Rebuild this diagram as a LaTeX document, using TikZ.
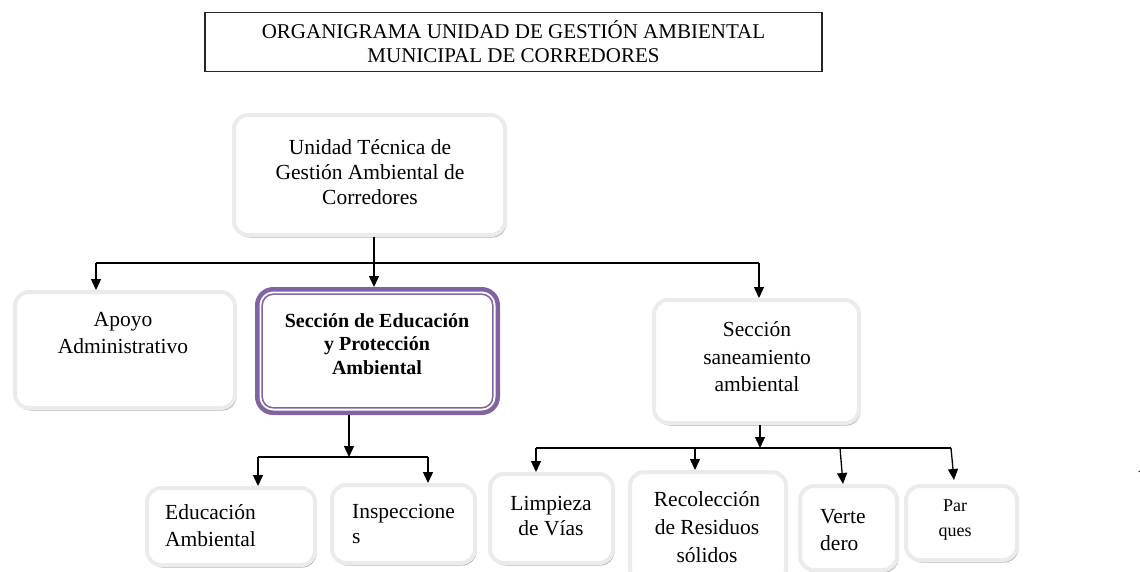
\documentclass[tikz,border=0pt]{standalone}
\usepackage{fontspec}
\setmainfont{Liberation Serif}
\usetikzlibrary{arrows.meta,shadows,calc}
\definecolor{purp}{HTML}{8064A2}
\begin{document}
\begin{tikzpicture}[x=1pt,y=-1pt,
  gbox/.style={draw=black!8, line width=4pt, fill=white, rounded corners=14pt,
    anchor=north west, inner sep=0pt,
    drop shadow={shadow xshift=1.5pt, shadow yshift=-2.5pt, fill=black!30, opacity=1}},
  pbox/.style={draw=purp, line width=4.5pt, fill=white, rounded corners=16pt,
    anchor=north west, inner sep=0pt},
  titlebox/.style={draw=black!85, line width=1.2pt, align=center, inner sep=0pt,
    font=\fontsize{21}{24}\selectfont},
  txt/.style={align=center, inner sep=0pt, font=\fontsize{21.5}{#1}\selectfont},
  ltxt/.style={align=left, inner sep=0pt, anchor=west, font=\fontsize{21.5}{#1}\selectfont},
  conn/.style={line width=1.3pt, draw=black},
  arr/.style={conn, -{Triangle[length=11pt,width=10pt]}}
]
\useasboundingbox (0,0) rectangle (1140,571);

% title
\node[titlebox, minimum width=617pt, minimum height=59pt] (ttl) at (513.5,42)
  {ORGANIGRAMA UNIDAD DE GESTIÓN AMBIENTAL\\MUNICIPAL DE CORREDORES};

% boxes
\node[gbox, minimum width=271pt, minimum height=120pt] (top) at (232,113) {};
\node[gbox, minimum width=220pt, minimum height=116pt] (apoyo) at (13,290) {};
\node[pbox, minimum width=240.5pt, minimum height=123.5pt] (sep) at (255,287) {};
\draw[purp, line width=1.5pt, rounded corners=11pt]
  ([xshift=7.2pt,yshift=-7.2pt]sep.north west) rectangle ([xshift=-7.2pt,yshift=7.2pt]sep.south east);
\node[gbox, minimum width=205pt, minimum height=123pt] (san) at (652,298) {};
\node[gbox, minimum width=168pt, minimum height=77pt] (educ) at (145,486) {};
\node[gbox, minimum width=143pt, minimum height=78pt] (insp) at (330,483) {};
\node[gbox, minimum width=123pt, minimum height=89pt] (limp) at (488,472) {};
\node[gbox, minimum width=156pt, minimum height=111pt] (recol) at (628,470) {};
\node[gbox, minimum width=97pt, minimum height=84pt] (verte) at (798,484) {};
\node[gbox, minimum width=111pt, minimum height=74pt] (par) at (904,484) {};

% texts
\node[txt=25] (toptxt) at (370,172) {Unidad Técnica de\\Gestión Ambiental de\\Corredores};
\node[txt=27] (apoyotxt) at (123,333) {Apoyo\\Administrativo};
\node[align=center, inner sep=0pt, font=\bfseries\fontsize{20}{23.5}\selectfont] (septxt) at (377,344)
  {Sección de Educación\\y Protección\\Ambiental};
\node[txt=27.5] (santxt) at (757,357) {Sección\\saneamiento\\ambiental};
\node[ltxt=27] (eductxt) at (165,526) {Educación\\Ambiental};
\node[ltxt=25] (insptxt) at (352,524) {Inspeccione\\s};
\node[txt=25] (limptxt) at (551,516) {Limpieza\\de Vías};
\node[txt=28] (recoltxt) at (707,527) {Recolección\\de Residuos\\sólidos};
\node[ltxt=27] (vertetxt) at (820,530) {Verte\\dero};
\node[align=center, inner sep=0pt, font=\fontsize{18}{25}\selectfont] (partxt) at (955,520) {Par\\ques};
\node[inner sep=0pt, anchor=south east, font=\fontsize{12}{12}\selectfont] (dot) at (1141,473) {.};

% connectors level 1
\coordinate (j1) at (374,263);
\coordinate (jl) at (96,263);
\coordinate (jr) at (759,263);
\draw[conn] (top.south -| j1) -- (j1);
\draw[conn] (jl) -- (jr);
\draw[arr] (jl) -- (apoyo.north -| jl);
\draw[arr] (j1) -- (sep.north -| j1);
\draw[arr] (jr) -- (san.north -| jr);

% connectors under seccion educacion
\coordinate (k1) at (349,457);
\coordinate (kl) at (258,457);
\coordinate (kr) at (428,457);
\draw[arr] (sep.south -| k1) -- (k1);
\draw[conn] (kl) -- (kr);
\draw[arr] (kl) -- (educ.north -| kl);
\draw[arr] (kr) -- (insp.north -| kr);

% connectors under saneamiento
\coordinate (m1) at (760,448);
\coordinate (ma) at (536,448);
\coordinate (mb) at (695,448);
\coordinate (mc) at (840,448);
\coordinate (md) at (951,448);
\draw[arr] (san.south -| m1) -- (m1);
\draw[conn] (ma) -- (md);
\draw[arr] (ma) -- (limp.north -| ma);
\draw[arr] (mb) -- (recol.north -| mb);
\draw[arr] (mc) -- ($(verte.north -| mc)+(3,0)$);
\draw[arr] (md) -- ($(par.north -| md)+(3,-4)$);
\end{tikzpicture}
\end{document}
